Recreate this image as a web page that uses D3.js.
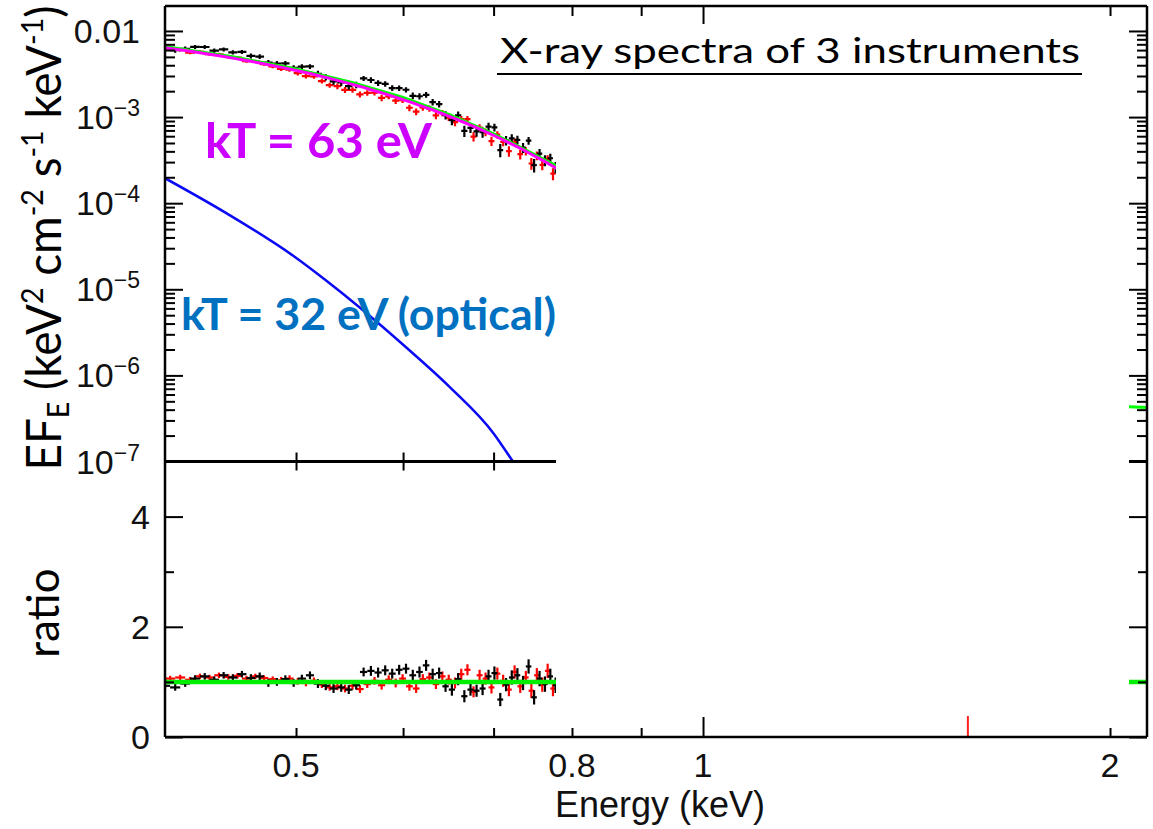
<!DOCTYPE html>
<html>
<head>
<meta charset="utf-8">
<script src="https://cdn.jsdelivr.net/npm/d3@7"></script>
<style>
  body { margin: 0; background: #fff; }
  svg { display: block; background: #fff; }
</style>
</head>
<body>
<svg></svg>
<script>
// Energy bins of the black spectrum (keV)
let energies = [
  0.400, 0.407, 0.414, 0.421, 0.428, 0.435, 0.442, 0.449, 0.456, 0.463,
  0.470, 0.477, 0.484, 0.491, 0.498, 0.505, 0.512, 0.519, 0.526, 0.533,
  0.540, 0.547, 0.554, 0.561, 0.568, 0.575, 0.582, 0.589, 0.596, 0.603,
  0.610, 0.617, 0.624, 0.631, 0.638, 0.645, 0.652, 0.659, 0.666, 0.673,
  0.680, 0.687, 0.694, 0.701, 0.708, 0.715, 0.722, 0.729, 0.736, 0.743,
  0.750, 0.757, 0.764, 0.771, 0.778, 0.785
];

// kT = 63 eV model (magenta), EF_E at each black bin
let modelFlux = [
  6.38e-3, 6.15e-3, 5.92e-3, 5.70e-3, 5.48e-3, 5.26e-3, 5.05e-3, 4.84e-3, 4.64e-3, 4.44e-3,
  4.25e-3, 4.06e-3, 3.88e-3, 3.70e-3, 3.53e-3, 3.36e-3, 3.20e-3, 3.04e-3, 2.89e-3, 2.74e-3,
  2.60e-3, 2.46e-3, 2.33e-3, 2.21e-3, 2.08e-3, 1.97e-3, 1.86e-3, 1.75e-3, 1.65e-3, 1.55e-3,
  1.46e-3, 1.37e-3, 1.29e-3, 1.21e-3, 1.13e-3, 1.06e-3, 9.91e-4, 9.26e-4, 8.65e-4, 8.07e-4,
  7.52e-4, 7.01e-4, 6.52e-4, 6.07e-4, 5.64e-4, 5.23e-4, 4.85e-4, 4.50e-4, 4.17e-4, 3.85e-4,
  3.56e-4, 3.29e-4, 3.04e-4, 2.80e-4, 2.58e-4, 2.37e-4
];

// Energy bins of the red spectrum (keV), and the model read at those bins
let redEnergies = [
  0.4035, 0.4105, 0.4175, 0.4245, 0.4315, 0.4385, 0.4455, 0.4525, 0.4595, 0.4665,
  0.4735, 0.4805, 0.4875, 0.4945, 0.5015, 0.5085, 0.5155, 0.5225, 0.5295, 0.5365,
  0.5435, 0.5505, 0.5575, 0.5645, 0.5715, 0.5785, 0.5855, 0.5925, 0.5995, 0.6065,
  0.6135, 0.6205, 0.6275, 0.6345, 0.6415, 0.6485, 0.6555, 0.6625, 0.6695, 0.6765,
  0.6835, 0.6905, 0.6975, 0.7045, 0.7115, 0.7185, 0.7255, 0.7325, 0.7395, 0.7465,
  0.7535, 0.7605, 0.7675, 0.7745, 0.7815, 0.7885
];
let redModelFlux = [
  6.26e-3, 6.03e-3, 5.81e-3, 5.59e-3, 5.37e-3, 5.15e-3, 4.94e-3, 4.74e-3, 4.54e-3, 4.34e-3,
  4.15e-3, 3.97e-3, 3.79e-3, 3.61e-3, 3.44e-3, 3.28e-3, 3.12e-3, 2.96e-3, 2.81e-3, 2.67e-3,
  2.53e-3, 2.39e-3, 2.27e-3, 2.14e-3, 2.02e-3, 1.91e-3, 1.80e-3, 1.70e-3, 1.60e-3, 1.50e-3,
  1.41e-3, 1.33e-3, 1.25e-3, 1.17e-3, 1.09e-3, 1.02e-3, 9.58e-4, 8.95e-4, 8.36e-4, 7.79e-4,
  7.26e-4, 6.76e-4, 6.29e-4, 5.85e-4, 5.43e-4, 5.04e-4, 4.67e-4, 4.33e-4, 4.01e-4, 3.70e-4,
  3.42e-4, 3.16e-4, 2.92e-4, 2.69e-4, 2.47e-4, 2.27e-4
];

// data / model ratios and their errors
let blackRatio = [
  0.93, 0.90, 0.97, 1.06, 1.10, 1.04, 1.12, 1.08, 1.14, 1.07,
  1.10, 0.98, 1.00, 1.05, 0.98, 1.06, 1.12, 0.97, 0.93, 0.88,
  0.90, 0.86, 0.94, 1.18, 1.20, 1.17, 1.21, 1.15, 1.22, 1.24,
  1.12, 1.18, 1.30, 1.14, 1.16, 0.92, 0.86, 1.05, 0.74, 0.86,
  0.84, 0.88, 1.10, 1.16, 0.68, 0.95, 1.08, 1.12, 0.98, 1.28,
  0.72, 1.06, 0.96, 1.10, 0.94, 1.02
];
let blackErr = [
  0.06, 0.06, 0.06, 0.06, 0.06, 0.06, 0.06, 0.06, 0.06, 0.07,
  0.07, 0.07, 0.07, 0.07, 0.07, 0.07, 0.07, 0.08, 0.08, 0.08,
  0.08, 0.08, 0.08, 0.08, 0.09, 0.09, 0.09, 0.09, 0.09, 0.09,
  0.10, 0.10, 0.10, 0.10, 0.10, 0.10, 0.11, 0.11, 0.11, 0.11,
  0.11, 0.12, 0.12, 0.12, 0.12, 0.12, 0.13, 0.13, 0.13, 0.13,
  0.13, 0.14, 0.14, 0.14, 0.14, 0.15
];
let redRatio = [
  1.06, 1.08, 1.04, 1.10, 1.08, 1.12, 1.09, 1.11, 1.06, 1.10,
  1.07, 1.05, 1.03, 1.06, 1.01, 0.98, 1.02, 0.95, 0.90, 0.92,
  0.88, 0.93, 0.87, 0.96, 1.02, 0.94, 1.04, 0.98, 1.06, 0.92,
  0.88, 1.05, 1.08, 0.96, 1.10, 1.04, 0.98, 1.14, 1.22, 0.82,
  1.12, 1.06, 0.90, 1.15, 1.02, 0.86, 1.18, 0.92, 1.08, 0.84,
  1.12, 0.95, 1.20, 0.88, 1.05, 1.15
];
let redErr = [
  0.05, 0.05, 0.05, 0.05, 0.05, 0.05, 0.05, 0.05, 0.05, 0.05,
  0.05, 0.05, 0.06, 0.06, 0.06, 0.06, 0.06, 0.06, 0.06, 0.07,
  0.07, 0.07, 0.07, 0.07, 0.07, 0.08, 0.08, 0.08, 0.08, 0.08,
  0.08, 0.09, 0.09, 0.09, 0.09, 0.09, 0.10, 0.10, 0.10, 0.10,
  0.10, 0.11, 0.11, 0.11, 0.11, 0.12, 0.12, 0.12, 0.12, 0.13,
  0.13, 0.13, 0.13, 0.14, 0.14, 0.14
];

// cross-normalisation of each instrument against the magenta model
let blackNorm = 1.08;
let redNorm = 0.93;

// green model (third instrument)
let greenEnergies = [0.40, 0.45, 0.50, 0.55, 0.60, 0.65, 0.70, 0.75, 0.79, 2.00, 2.15];
let greenFlux = [6.6e-3, 5.0e-3, 3.62e-3, 2.52e-3, 1.69e-3, 1.06e-3, 6.4e-4, 3.7e-4, 2.42e-4, 4.4e-7, 4.2e-7];
let greenRatioEnergies = [0.40, 2.15];
let greenRatio = [1, 1];

// kT = 32 eV (optical) component, blue
let blueEnergies = [0.400, 0.444, 0.497, 0.526, 0.557, 0.603, 0.650, 0.700, 0.724, 0.740];
let blueFlux = [1.95e-4, 7.66e-5, 2.48e-5, 1.27e-5, 6.18e-6, 2.12e-6, 7.25e-7, 2.12e-7, 9.8e-8, 5.9e-8];

// lone red residual bin at higher energy
let strayRedEnergies = [1.57];
let strayRedRatio = [0.19];
let strayRedErr = [0.19];

// half width of a bin (keV)
let binHalf = 0.0035;

// axis ticks
let fluxTicks = [1e-2, 1e-3, 1e-4, 1e-5, 1e-6, 1e-7];
let fluxTickBase = ['0.01', '10', '10', '10', '10', '10'];
let fluxTickExp = ['', '\u22123', '\u22124', '\u22125', '\u22126', '\u22127'];
let ratioTicks = [0, 2, 4];
let ratioMinorTicks = [1, 3, 5];
let energyMinorTicks = [0.5, 0.6, 0.7, 0.8, 0.9, 2];
let energyMajorTicks = [1];
let energyLabels = [0.5, 0.8, 1, 2];

// layout
let width = 1153;
let height = 829;
let plotLeft = 165;
let plotRight = 1147;
let plotTop = 6;
let plotMid = 461.5;
let plotBottom = 737;
let cutX = 556;     // spectra are only shown left of this
let stripX = 1129;  // and in the thin strip at the right edge

let svg = d3.select('svg').attr('width', width).attr('height', height);

// scales
let xScale = d3.scaleLog().domain([0.4, 2.13]).range([plotLeft, plotRight]);
let yFlux = d3.scaleLog().domain([1e-7, 0.0195]).range([plotMid, plotTop]);
let yRatio = d3.scaleLinear().domain([0, 5]).range([plotBottom, plotMid]);

// clip areas (two visible windows per panel)
let defs = svg.append('defs');
let addClip = (id, y0, y1) => {
    let cp = defs.append('clipPath').attr('id', id);
    cp.append('rect').attr('x', plotLeft).attr('y', y0).attr('width', cutX - plotLeft).attr('height', y1 - y0);
    cp.append('rect').attr('x', stripX).attr('y', y0).attr('width', plotRight - stripX).attr('height', y1 - y0);
};
addClip('clip-upper', plotTop, plotMid);
addClip('clip-lower', plotMid, plotBottom);

// draw a set of ticks from a d3 axis, no labels
let drawTicks = (axis, tx, ty, clip) => {
    let outer = svg.append('g');
    if (clip) outer.attr('clip-path', 'url(#' + clip + ')');
    let g = outer.append('g')
        .attr('transform', 'translate(' + tx + ',' + ty + ')')
        .call(axis.tickSizeOuter(0).tickFormat(''));
    g.select('.domain').remove();
    g.selectAll('line').attr('stroke', '#000').attr('stroke-width', 2);
    g.selectAll('text').remove();
};

let fluxMinor = [];
for (let p = -7; p <= -3; p++) {
    for (let m = 2; m <= 9; m++) fluxMinor.push(m * Math.pow(10, p));
}

let drawAxes = () => {
    // flux axis, left and right
    drawTicks(d3.axisLeft(yFlux).tickValues(fluxTicks).tickSize(-18), plotLeft, 0);
    drawTicks(d3.axisLeft(yFlux).tickValues(fluxMinor).tickSize(-10), plotLeft, 0);
    drawTicks(d3.axisRight(yFlux).tickValues(fluxTicks).tickSize(-18), plotRight, 0);
    drawTicks(d3.axisRight(yFlux).tickValues(fluxMinor).tickSize(-10), plotRight, 0);

    // ratio axis, left and right
    drawTicks(d3.axisLeft(yRatio).tickValues(ratioTicks).tickSize(-18), plotLeft, 0);
    drawTicks(d3.axisLeft(yRatio).tickValues(ratioMinorTicks).tickSize(-9), plotLeft, 0);
    drawTicks(d3.axisRight(yRatio).tickValues(ratioTicks).tickSize(-18), plotRight, 0);
    drawTicks(d3.axisRight(yRatio).tickValues(ratioMinorTicks).tickSize(-9), plotRight, 0);

    // energy axis: top, shared middle, bottom
    drawTicks(d3.axisTop(xScale).tickValues(energyMinorTicks).tickSize(-10), 0, plotTop);
    drawTicks(d3.axisTop(xScale).tickValues(energyMajorTicks).tickSize(-18), 0, plotTop);
    drawTicks(d3.axisBottom(xScale).tickValues(energyMinorTicks).tickSize(-9), 0, plotMid, 'clip-upper');
    drawTicks(d3.axisTop(xScale).tickValues(energyMinorTicks).tickSize(-9), 0, plotMid, 'clip-lower');
    drawTicks(d3.axisBottom(xScale).tickValues(energyMinorTicks).tickSize(-9), 0, plotBottom);
    drawTicks(d3.axisBottom(xScale).tickValues(energyMajorTicks).tickSize(-20), 0, plotBottom);

    // frame
    let frame = svg.append('g').attr('stroke', '#000').attr('stroke-width', 2.5).attr('fill', 'none');
    frame.append('line').attr('x1', plotLeft).attr('x2', plotLeft).attr('y1', plotTop).attr('y2', plotBottom);
    frame.append('line').attr('x1', plotRight).attr('x2', plotRight).attr('y1', plotTop).attr('y2', plotBottom);
    frame.append('line').attr('x1', plotLeft).attr('x2', plotRight).attr('y1', plotTop).attr('y2', plotTop);
    frame.append('line').attr('x1', plotLeft).attr('x2', plotRight).attr('y1', plotBottom).attr('y2', plotBottom);
    frame.append('line').attr('x1', plotLeft).attr('x2', cutX).attr('y1', plotMid).attr('y2', plotMid).attr('stroke-width', 3);
    frame.append('line').attr('x1', stripX).attr('x2', plotRight).attr('y1', plotMid).attr('y2', plotMid).attr('stroke-width', 3);

    // flux tick labels (with exponents)
    fluxTicks.forEach((v, i) => {
        let t = svg.append('text')
            .attr('x', plotLeft - 25)
            .attr('y', yFlux(v) + 12)
            .attr('text-anchor', 'end')
            .attr('font-family', 'Liberation Sans, Arial, sans-serif')
            .attr('font-size', 34)
            .attr('fill', '#111');
        t.append('tspan').text(fluxTickBase[i]);
        if (fluxTickExp[i] !== '') {
            t.append('tspan').attr('dy', -13).attr('font-size', 23).text(fluxTickExp[i]);
        }
    });

    // ratio tick labels
    svg.selectAll('.ratio-label')
        .data(ratioTicks)
        .enter()
        .append('text')
        .attr('class', 'ratio-label')
        .attr('x', plotLeft - 15)
        .attr('y', (d) => yRatio(d) + 12)
        .attr('text-anchor', 'end')
        .attr('font-family', 'Liberation Sans, Arial, sans-serif')
        .attr('font-size', 34)
        .attr('fill', '#111')
        .text((d) => d);

    // energy tick labels
    svg.selectAll('.energy-label')
        .data(energyLabels)
        .enter()
        .append('text')
        .attr('class', 'energy-label')
        .attr('x', (d) => xScale(d))
        .attr('y', plotBottom + 40)
        .attr('text-anchor', 'middle')
        .attr('font-family', 'Liberation Sans, Arial, sans-serif')
        .attr('font-size', 34)
        .attr('fill', '#111')
        .text((d) => d);

    svg.append('text')
        .attr('x', 660)
        .attr('y', 817)
        .attr('text-anchor', 'middle')
        .attr('font-family', 'Liberation Sans, Arial, sans-serif')
        .attr('font-size', 36)
        .attr('fill', '#111')
        .text('Energy (keV)');
};

// error-bar crosses for one spectrum
let drawCrosses = (group, rows, yFn, loFn, hiFn, color) => {
    let g = group.append('g').attr('stroke', color).attr('stroke-width', 2.2);
    g.selectAll('.h')
        .data(rows)
        .enter()
        .append('line')
        .attr('x1', (d) => xScale(d.e - binHalf))
        .attr('x2', (d) => xScale(d.e + binHalf))
        .attr('y1', (d) => yFn(d))
        .attr('y2', (d) => yFn(d));
    g.selectAll('.v')
        .data(rows)
        .enter()
        .append('line')
        .attr('x1', (d) => xScale(d.e))
        .attr('x2', (d) => xScale(d.e))
        .attr('y1', (d) => loFn(d))
        .attr('y2', (d) => hiFn(d));
};

let drawSpectra = () => {
    let blackRows = energies.map((e, i) => ({ e: e, m: modelFlux[i] * blackNorm, r: blackRatio[i], s: blackErr[i] }));
    let redRows = redEnergies.map((e, i) => ({ e: e, m: redModelFlux[i] * redNorm, r: redRatio[i], s: redErr[i] }));

    // upper panel
    let up = svg.append('g').attr('clip-path', 'url(#clip-upper)');
    [[redRows, '#ff0000'], [blackRows, '#000000']].forEach(([rows, color]) => {
        drawCrosses(up, rows,
            (d) => yFlux(d.m * d.r),
            (d) => yFlux(d.m * (d.r - d.s)),
            (d) => yFlux(d.m * (d.r + d.s)),
            color);
    });

    let line = d3.line().x((d) => xScale(d[0])).y((d) => yFlux(d[1]));
    up.append('path')
        .datum(greenEnergies.map((e, i) => [e, greenFlux[i]]))
        .attr('d', line)
        .attr('fill', 'none')
        .attr('stroke', '#00ff00')
        .attr('stroke-width', 3);
    up.append('path')
        .datum(energies.map((e, i) => [e, modelFlux[i]]))
        .attr('d', line)
        .attr('fill', 'none')
        .attr('stroke', '#ff00ff')
        .attr('stroke-width', 3);
    up.append('path')
        .datum(blueEnergies.map((e, i) => [e, blueFlux[i]]))
        .attr('d', line.curve(d3.curveMonotoneX))
        .attr('fill', 'none')
        .attr('stroke', '#0a0af5')
        .attr('stroke-width', 2.5);

    // lower panel (ratios)
    let low = svg.append('g').attr('clip-path', 'url(#clip-lower)');
    [[redRows, '#ff0000'], [blackRows, '#000000']].forEach(([rows, color]) => {
        drawCrosses(low, rows,
            (d) => yRatio(d.r),
            (d) => yRatio(d.r - d.s),
            (d) => yRatio(d.r + d.s),
            color);
    });
    low.append('path')
        .datum(greenRatioEnergies.map((e, i) => [e, greenRatio[i]]))
        .attr('d', d3.line().x((d) => xScale(d[0])).y((d) => yRatio(d[1])))
        .attr('fill', 'none')
        .attr('stroke', '#00ee00')
        .attr('stroke-width', 4.5);

    // the single red bin near 1.6 keV
    svg.append('g')
        .selectAll('line')
        .data(strayRedEnergies)
        .enter()
        .append('line')
        .attr('x1', (d) => xScale(d))
        .attr('x2', (d) => xScale(d))
        .attr('y1', (d, i) => yRatio(strayRedRatio[i] - strayRedErr[i]))
        .attr('y2', (d, i) => yRatio(strayRedRatio[i] + strayRedErr[i]))
        .attr('stroke', '#ff2020')
        .attr('stroke-width', 2);
};

let drawAnnotations = () => {
    // y axis titles
    let yl = svg.append('text')
        .attr('transform', 'translate(61,238) rotate(-90)')
        .attr('text-anchor', 'middle')
        .attr('font-family', 'Lato, sans-serif')
        .attr('font-size', 48)
        .attr('textLength', 465)
        .attr('lengthAdjust', 'spacingAndGlyphs')
        .attr('fill', '#000');
    yl.append('tspan').text('EF');
    yl.append('tspan').attr('font-size', 30).attr('dy', 8).text('E');
    yl.append('tspan').attr('dy', -8).text(' (keV');
    yl.append('tspan').attr('font-size', 30).attr('dy', -18).text('2');
    yl.append('tspan').attr('dy', 18).text(' cm');
    yl.append('tspan').attr('font-size', 30).attr('dy', -18).text('-2');
    yl.append('tspan').attr('dy', 18).text(' s');
    yl.append('tspan').attr('font-size', 30).attr('dy', -18).text('-1');
    yl.append('tspan').attr('dy', 18).text(' keV');
    yl.append('tspan').attr('font-size', 30).attr('dy', -18).text('-1');
    yl.append('tspan').attr('dy', 18).text(')');

    svg.append('text')
        .attr('transform', 'translate(59,613) rotate(-90)')
        .attr('text-anchor', 'middle')
        .attr('font-family', 'Lato, sans-serif')
        .attr('font-size', 44)
        .attr('fill', '#000')
        .text('ratio');

    // title
    svg.append('text')
        .attr('x', 500)
        .attr('y', 63)
        .attr('font-family', 'Lato, sans-serif')
        .attr('font-size', 35)
        .attr('textLength', 580)
        .attr('lengthAdjust', 'spacingAndGlyphs')
        .attr('fill', '#000')
        .text('X-ray spectra of 3 instruments');
    svg.append('line')
        .attr('x1', 497).attr('x2', 1082)
        .attr('y1', 74).attr('y2', 74)
        .attr('stroke', '#000')
        .attr('stroke-width', 2);

    // component labels
    svg.append('text')
        .attr('x', 205)
        .attr('y', 158)
        .attr('font-family', 'Lato, sans-serif')
        .attr('font-weight', 'bold')
        .attr('font-size', 48)
        .attr('textLength', 227)
        .attr('lengthAdjust', 'spacingAndGlyphs')
        .attr('fill', '#cc00ff')
        .text('kT = 63 eV');
    svg.append('text')
        .attr('x', 181)
        .attr('y', 330)
        .attr('font-family', 'Lato, sans-serif')
        .attr('font-weight', 'bold')
        .attr('font-size', 44)
        .attr('textLength', 375)
        .attr('lengthAdjust', 'spacingAndGlyphs')
        .attr('fill', '#0070c0')
        .text('kT = 32 eV (optical)');
};

drawSpectra();
drawAxes();
drawAnnotations();
</script>
</body>
</html>
